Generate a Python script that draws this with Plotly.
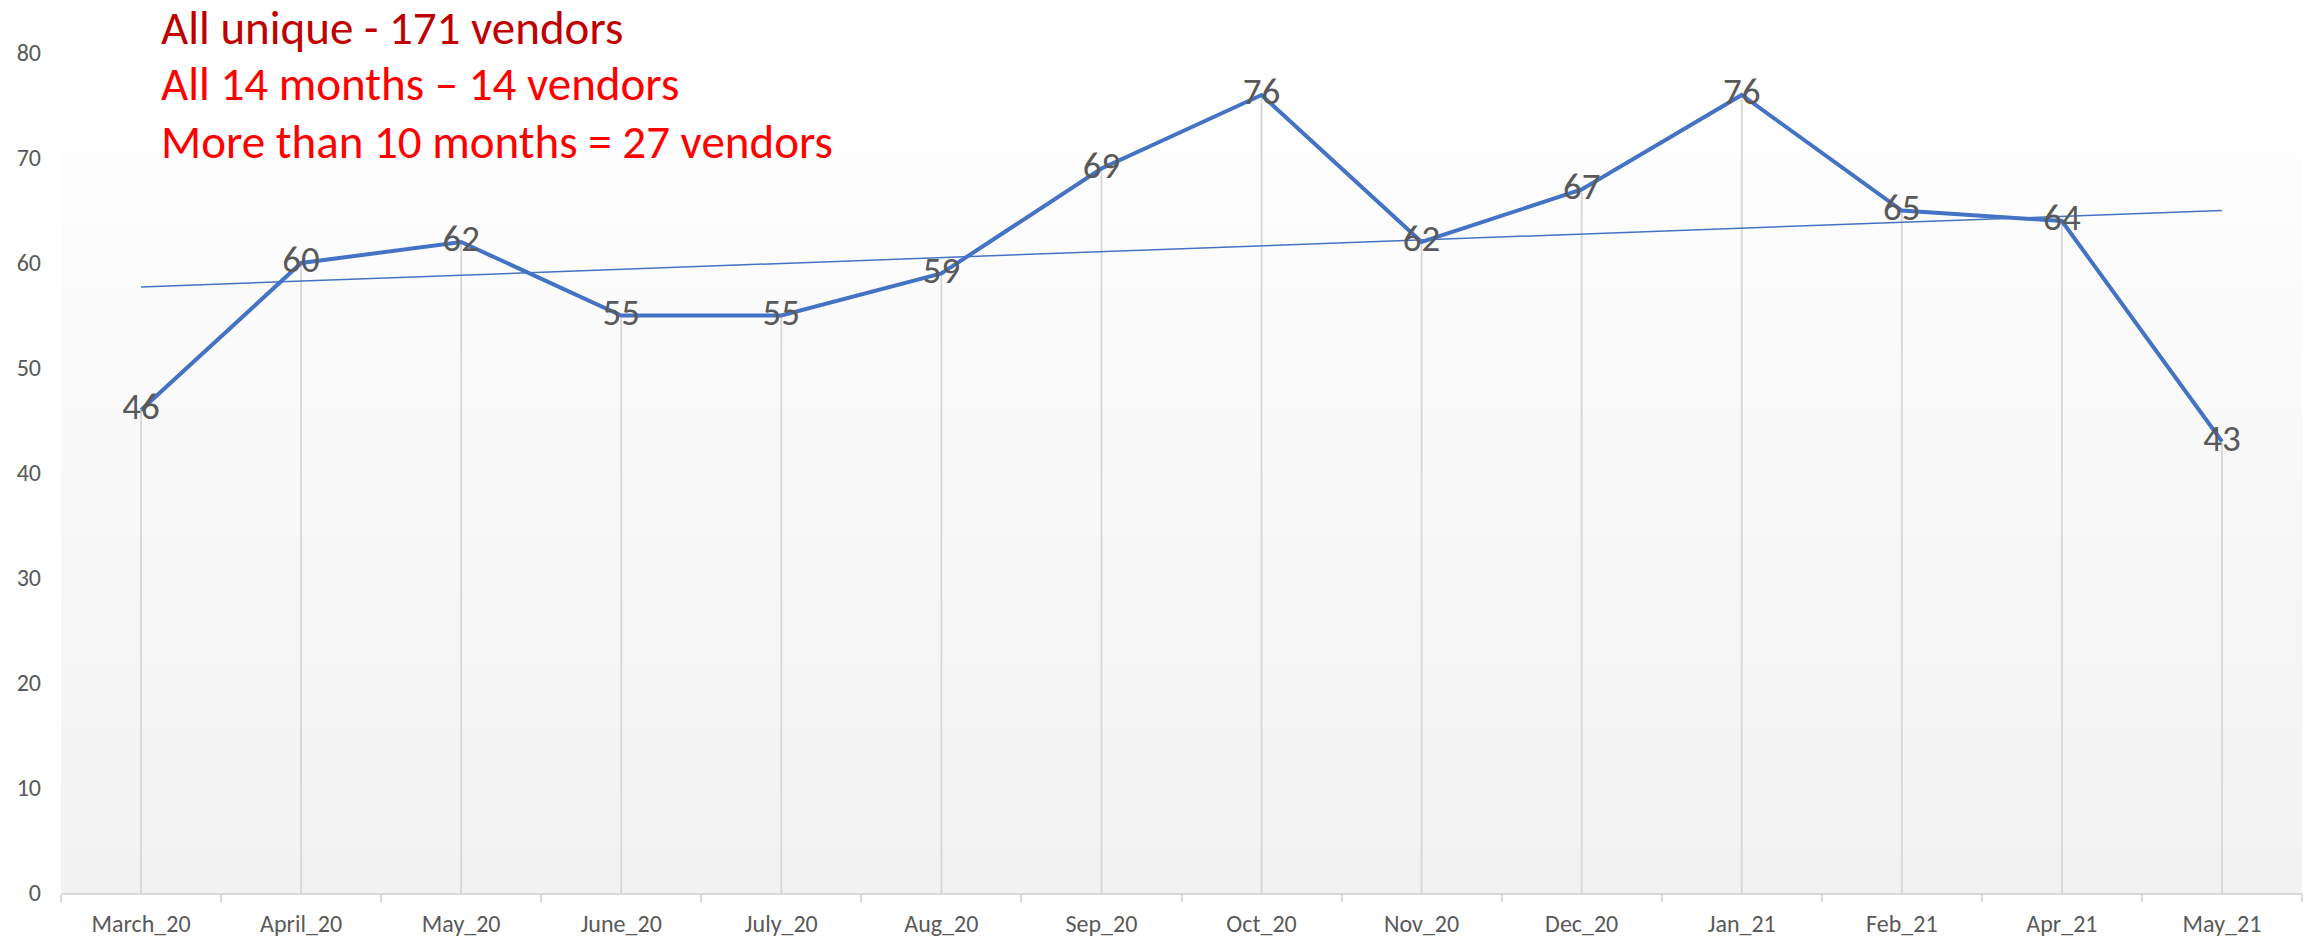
import numpy as np
import plotly.graph_objects as go

months = ["March_20", "April_20", "May_20", "June_20", "July_20", "Aug_20", "Sep_20",
          "Oct_20", "Nov_20", "Dec_20", "Jan_21", "Feb_21", "Apr_21", "May_21"]
vendors = [46, 60, 62, 55, 55, 59, 69, 76, 62, 67, 76, 65, 64, 43]
notes = ["All unique - 171 vendors", "All 14 months \u2013 14 vendors", "More than 10 months = 27 vendors"]
note_colors = ["#C00000", "#FF0000", "#FF0000"]

FONT = "Calibri, Carlito, Lato, sans-serif"

idx = np.arange(len(vendors))
slope, intercept = np.polyfit(idx, vendors, 1)
trend = slope * idx + intercept

fig = go.Figure()

# drop lines from each point to the axis
fig.add_trace(go.Scatter(
    x=months, y=vendors, mode="markers", marker=dict(size=1, opacity=0),
    error_y=dict(type="data", symmetric=False, array=[0] * len(vendors),
                 arrayminus=vendors, color="#d6d6d6", thickness=1.8, width=0),
    hoverinfo="skip", showlegend=False))

# linear trendline
fig.add_trace(go.Scatter(
    x=months, y=trend, mode="lines", line=dict(color="#4472C4", width=1.5),
    showlegend=False))

# main series
fig.add_trace(go.Scatter(
    x=months, y=vendors, mode="lines+text", text=[str(v) for v in vendors],
    textposition="middle center",
    textfont=dict(family=FONT, size=37, color="#595959"),
    line=dict(color="#4472C4", width=4), showlegend=False))

# vertical gradient background of the plot area
shapes = []
n_bands = 40
for i in range(n_bands):
    t = (i + 0.5) / n_bands  # 0 at bottom, 1 at top
    c = int(round(242 + (255 - 242) * t))
    shapes.append(dict(type="rect", xref="x domain", yref="y domain",
                       x0=0, x1=1, y0=i / n_bands, y1=(i + 1) / n_bands,
                       fillcolor=f"rgb({c},{c},{c})", line=dict(width=0), layer="below"))

note_y = [1.0300, 0.9629, 0.8935]
annotations = []
for txt, col, yy in zip(notes, note_colors, note_y):
    annotations.append(dict(text=txt, xref="paper", yref="paper", x=0.0440, y=yy,
                            xanchor="left", yanchor="middle", showarrow=False,
                            borderpad=0,
                            font=dict(family=FONT, size=47, color=col)))

fig.update_layout(
    width=2315, height=937,
    margin=dict(l=61, r=13, t=53, b=44),
    paper_bgcolor="white", plot_bgcolor="white",
    shapes=shapes, annotations=annotations,
    font=dict(family=FONT, color="#595959"),
    xaxis=dict(type="category", range=[-0.5, len(months) - 0.5], automargin=False,
               showgrid=False, zeroline=False,
               showline=True, linecolor="#d9d9d9", linewidth=1.5,
               ticks="outside", tickson="boundaries", ticklen=7, tickcolor="#d9d9d9",
               tickwidth=1.5, ticklabelstandoff=8,
               tickfont=dict(family=FONT, size=24, color="#595959")),
    yaxis=dict(range=[0, 80], dtick=10, showgrid=False, zeroline=False, automargin=False,
               showline=False, ticks="", ticklabelstandoff=19,
               tickfont=dict(family=FONT, size=24, color="#595959")),
)

fig.write_html("out.html", config={"displayModeBar": False},
               post_script="document.body.style.margin='0';document.body.style.overflow='hidden';")
